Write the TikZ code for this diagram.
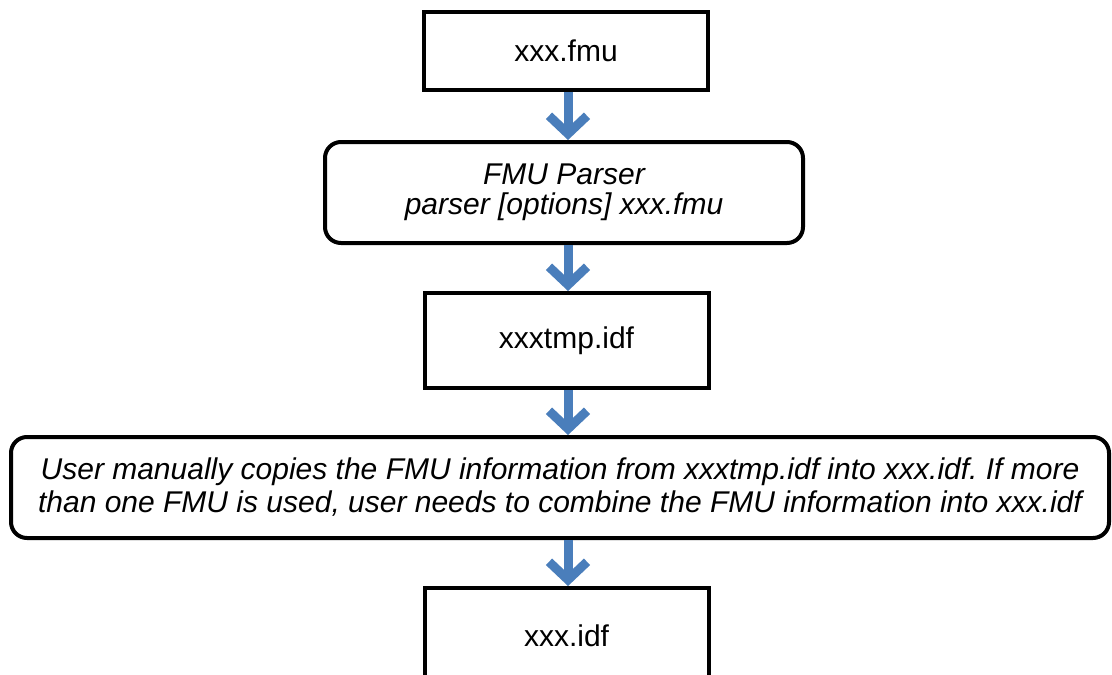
\documentclass[tikz,border=0pt]{standalone}
\usepackage{fontspec}
\setmainfont{Liberation Sans}
\usetikzlibrary{arrows.meta}
\definecolor{arrowblue}{RGB}{74,126,187}
\tikzset{
  x=0.5pt, y=-0.5pt,
  base/.style={draw=black, line width=2pt, fill=white, align=center, inner sep=0pt, font=\fontsize{15}{15}\selectfont},
  filebox/.style={base, minimum width=142pt, minimum height=39pt},
  procbox/.style={base, rounded corners=8pt, font=\fontsize{15}{15}\selectfont\itshape},
  flow/.style={draw=arrowblue, line width=4.5pt, -{Straight Barb[length=9pt,width=19pt]}},
}
\frenchspacing
\begin{document}
\begin{tikzpicture}
\useasboundingbox (0,0) rectangle (1112,674);
\clip (0,0) rectangle (1112,674);
\node[filebox] (fmu) at (566,51) {xxx.fmu};
\node[procbox, minimum width=239pt, minimum height=50.5pt] (parser) at (564,192.5) {FMU Parser\\parser [options] xxx.fmu};
\node[filebox, minimum height=47.5pt] (tmp) at (566.5,340.5) {xxxtmp.idf};
\node[procbox, minimum width=549pt, minimum height=50.5pt, font=\fontsize{15}{16.5}\selectfont\itshape] (copy) at (560,487.5) {User manually copies the FMU information from xxxtmp.idf into xxx.idf. If more\\than one FMU is used, user needs to combine the FMU information into xxx.idf};
\node[filebox, minimum height=47.5pt] (idf) at (566.5,635.5) {xxx.idf};
\draw[flow] (fmu.south -| 568,0) -- (parser.north -| 568,0);
\draw[flow] (parser.south -| 568,0) -- (tmp.north -| 568,0);
\draw[flow] (tmp.south -| 568,0) -- (copy.north -| 568,0);
\draw[flow] (copy.south -| 568,0) -- (idf.north -| 568,0);
\end{tikzpicture}
\end{document}
